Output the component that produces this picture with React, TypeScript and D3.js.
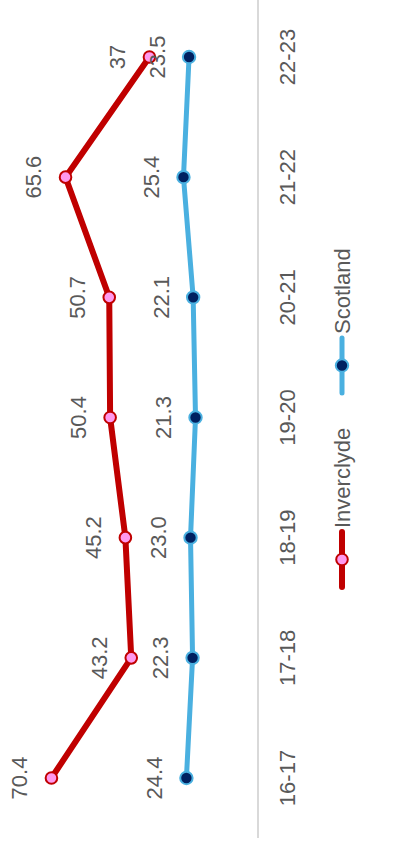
import React from "react";
import * as d3 from "d3";

const categories = ["16-17", "17-18", "18-19", "19-20", "20-21", "21-22", "22-23"];
const inverclydeValues = [70.4, 43.2, 45.2, 50.4, 50.7, 65.6, 37];
const inverclydeLabels = ["70.4", "43.2", "45.2", "50.4", "50.7", "65.6", "37"];
const scotlandValues = [24.4, 22.3, 23.0, 21.3, 22.1, 25.4, 23.5];
const scotlandLabels = ["24.4", "22.3", "23.0", "21.3", "22.1", "25.4", "23.5"];
const seriesNames = ["Inverclyde", "Scotland"];

const W = 843; // unrotated width
const FONT = "'Liberation Sans', Arial, sans-serif";
const TEXT_COLOR = "#595959";

export default function App() {
  const x = d3.scalePoint<string>().domain(categories).range([65, 786]);
  const step = x.step();
  const y = d3.scaleLinear().domain([0, 80]).range([258, 258 - 80 * 2.934]);

  const series = [
    { name: seriesNames[0], values: inverclydeValues, labels: inverclydeLabels, line: "#C00000", fill: "#FF99EE", stroke: "#C00000", lw: 6, r: 5.8 },
    { name: seriesNames[1], values: scotlandValues, labels: scotlandLabels, line: "#4AB0E0", fill: "#002060", stroke: "#4AB0E0", lw: 5, r: 6.2 },
  ];

  const lineGen = d3
    .line<number>()
    .x((_, i) => x(categories[i]) as number)
    .y((d) => y(d));

  const legendItems = [
    { s: series[0], x0: 256 },
    { s: series[1], x0: 450 },
  ];

  return (
    <div style={{ position: "absolute", left: 0, top: 0 }}>
      <svg width={403} height={843} style={{ display: "block" }}>
        <rect width={403} height={843} fill="#ffffff" />
        <g transform={`translate(0,${W}) rotate(-90)`}>
          <line
            x1={(x(categories[0]) as number) - step / 2}
            x2={(x(categories[categories.length - 1]) as number) + step / 2}
            y1={y(0)}
            y2={y(0)}
            stroke="#D9D9D9"
            strokeWidth={2}
          />
          {categories.map((c) => (
            <text
              key={c}
              x={x(c) as number}
              y={287}
              textAnchor="middle"
              dominantBaseline="central"
              fontFamily={FONT}
              fontSize={22}
              fill={TEXT_COLOR}
            >
              {c}
            </text>
          ))}
          {series.map((s) => (
            <path
              key={s.name}
              d={lineGen(s.values) || ""}
              fill="none"
              stroke={s.line}
              strokeWidth={s.lw}
              strokeLinejoin="round"
              strokeLinecap="round"
            />
          ))}
          {series.map((s) =>
            s.values.map((v, i) => (
              <circle
                key={s.name + i}
                cx={x(categories[i]) as number}
                cy={y(v)}
                r={s.r}
                fill={s.fill}
                stroke={s.stroke}
                strokeWidth={2}
              />
            ))
          )}
          {series.map((s) =>
            s.values.map((v, i) => (
              <text
                key={s.name + "l" + i}
                x={x(categories[i]) as number}
                y={y(v) - 32}
                textAnchor="middle"
                dominantBaseline="central"
                fontFamily={FONT}
                fontSize={22}
                fill={TEXT_COLOR}
              >
                {s.labels[i]}
              </text>
            ))
          )}
          {legendItems.map(({ s, x0 }) => (
            <g key={s.name + "leg"}>
              <line x1={x0} x2={x0 + 55} y1={342} y2={342} stroke={s.line} strokeWidth={s.lw} strokeLinecap="round" />
              <circle cx={x0 + 27.5} cy={342} r={s.r} fill={s.fill} stroke={s.stroke} strokeWidth={2} />
              <text
                x={x0 + 59}
                y={342}
                dominantBaseline="central"
                fontFamily={FONT}
                fontSize={22}
                fill={TEXT_COLOR}
              >
                {s.name}
              </text>
            </g>
          ))}
        </g>
      </svg>
    </div>
  );
}
